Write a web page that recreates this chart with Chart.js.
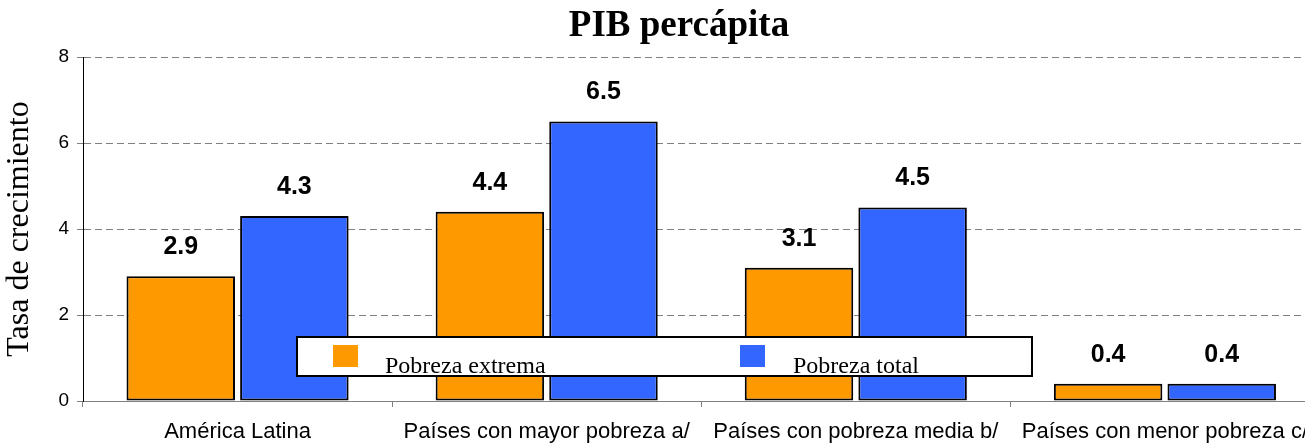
<!DOCTYPE html>
<html>
<head>
<meta charset="utf-8">
<script src="https://cdn.jsdelivr.net/npm/chart.js@4.4.0/dist/chart.umd.min.js"></script>
<style>
  html, body { margin: 0; padding: 0; background: #fff; overflow: hidden; }
  #wrap { width: 1320px; height: 443px; }
</style>
</head>
<body>
<div id="wrap"><canvas id="pibChart" width="1320" height="443"></canvas></div>
<script>
// data
const categories = ['América Latina', 'Países con mayor pobreza a/', 'Países con pobreza media b/', 'Países con menor pobreza c/'];
const pobrezaExtrema = [2.9, 4.4, 3.1, 0.4];
const pobrezaTotal = [4.3, 6.5, 4.5, 0.4];
const seriesNames = ['Pobreza extrema', 'Pobreza total'];
const yTicks = [0, 2, 4, 6, 8];

const serif = '"Liberation Serif", "Times New Roman", serif';
const sans = '"Liberation Sans", Arial, sans-serif';

// title, value labels and the boxed legend
const extras = {
  id: 'extras',
  afterDatasetsDraw(chart) {
    const ctx = chart.ctx;
    ctx.save();
    ctx.fillStyle = '#000';
    ctx.font = 'bold 25px ' + sans;
    ctx.textAlign = 'center';
    ctx.textBaseline = 'middle';
    chart.data.datasets.forEach(function (ds, i) {
      chart.getDatasetMeta(i).data.forEach(function (bar, j) {
        ctx.fillText(ds.data[j].toFixed(1), bar.x, bar.y - 29);
      });
    });

    ctx.font = 'bold 37px ' + serif;
    ctx.fillText('PIB percápita', 679, 26);

    // legend box
    ctx.fillStyle = '#fff';
    ctx.fillRect(297, 337, 735, 39);
    ctx.strokeStyle = '#000';
    ctx.lineWidth = 2;
    ctx.strokeRect(297, 337, 735, 39);
    const items = [[333, 385], [740, 793]];
    chart.data.datasets.forEach(function (ds, i) {
      ctx.fillStyle = ds.backgroundColor;
      ctx.fillRect(items[i][0], 345, 25, 22);
      ctx.fillStyle = '#000';
      ctx.font = '24px ' + serif;
      ctx.textAlign = 'left';
      ctx.textBaseline = 'alphabetic';
      ctx.fillText(ds.label, items[i][1], 373);
    });
    ctx.restore();
  }
};

new Chart(document.getElementById('pibChart'), {
  type: 'bar',
  data: {
    labels: categories,
    datasets: [{
      label: seriesNames[0],
      data: pobrezaExtrema,
      backgroundColor: '#FF9900',
      borderColor: '#000',
      borderWidth: 2,
      borderSkipped: false
    }, {
      label: seriesNames[1],
      data: pobrezaTotal,
      backgroundColor: '#3366FF',
      borderColor: '#000',
      borderWidth: 2,
      borderSkipped: false
    }]
  },
  options: {
    responsive: false,
    animation: false,
    categoryPercentage: 0.735,
    barPercentage: 0.955,
    layout: { padding: { top: 57, left: 0, right: 0, bottom: 0 } },
    plugins: {
      legend: { display: false },
      tooltip: { enabled: false },
      title: { display: false }
    },
    scales: {
      x: {
        offset: true,
        grid: { display: true, drawOnChartArea: false, offset: true, tickLength: 6, color: '#808080' },
        border: { color: '#808080', width: 1 },
        ticks: { color: '#000', font: { family: sans, size: 22 }, padding: 12, maxRotation: 0, autoSkip: false },
        afterFit(scale) { scale.height = 42; }
      },
      y: {
        min: 0,
        max: 8,
        afterBuildTicks(scale) { scale.ticks = yTicks.map(v => ({ value: v })); },
        grid: { color: '#808080', tickLength: 6, tickColor: '#808080' },
        border: { color: '#000', width: 1, dash: [7, 4] },
        ticks: { color: '#000', font: { family: sans, size: 19 }, padding: 8 },
        title: { display: true, text: 'Tasa de crecimiento', color: '#000', font: { family: serif, size: 32 }, padding: { top: 0, bottom: 2 } },
        afterFit(scale) { scale.width = 83; }
      }
    }
  },
  plugins: [extras]
});
</script>
</body>
</html>
